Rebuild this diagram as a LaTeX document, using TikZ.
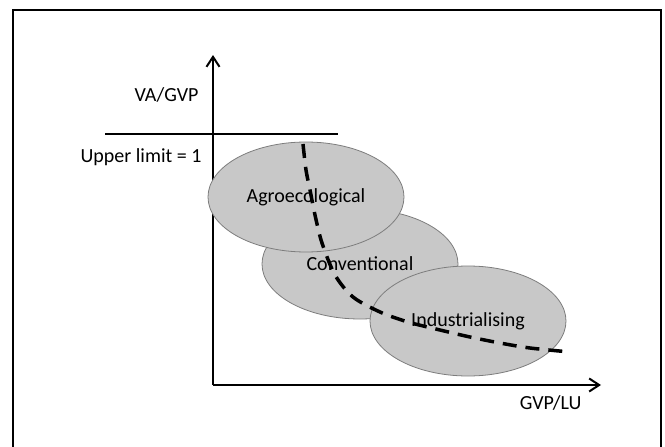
\documentclass[tikz,border=0pt]{standalone}
\usepackage{fontspec}
\setmainfont{Carlito}
\usepackage{tikz}
\usetikzlibrary{positioning}
\usetikzlibrary{arrows,arrows.meta,shapes}
\definecolor{regionfill}{RGB}{200,200,200}
\definecolor{regionline}{RGB}{125,125,125}
\tikzset{region/.style={ellipse,draw=regionline,fill=regionfill,line width=0.8pt,minimum width=196pt,minimum height=110pt}}
\tikzset{axis/.style={line width=2pt}}
\tikzset{axisarrow/.style={axis,-{Straight Barb[length=10pt,width=13pt]}}}

\begin{document}
\begin{tikzpicture}[x=1pt,y=-1pt,font=\fontsize{20}{24}\selectfont]
\useasboundingbox (0,0) rectangle (665,447);
\draw[line width=1.5pt] (13,470) -- (13,10) -- (661,10) -- (661,470);
\coordinate (origin) at (213,385);
\coordinate (ytip) at (213,55);
\coordinate (xtip) at (601,385);
\draw[axisarrow] (origin) -- (ytip);
\draw[axisarrow] (origin) -- (xtip);
\coordinate (limstart) at (105,134);
\coordinate (limend) at (338,134);
\draw[axis] (limstart) -- (limend);
\node[anchor=east] (ylab) at (202,95) {VA/GVP};
\node[anchor=east] (limlab) at (205,157) {Upper limit = 1};
\node[anchor=east] (xlab) at (585,403) {GVP/LU};
% regions
\node[region] (conv) at (360,264) {Conventional};
\node[region] (agro) at (306,197) {Agroecological};
\node[region] (indus) at (468,321) {Industrialising};
%\draw (agro) -- (indus);
\draw[line width=3.5pt,dash pattern=on 14pt off 9pt] plot[smooth] coordinates {(303,144) (306,170) (310,190) (315,215) (322,243) (335,275) (353,297) (380,312) (408,322) (440,330) (470,337) (500,343) (530,348) (570,352)};
\end{tikzpicture}
\end{document}
